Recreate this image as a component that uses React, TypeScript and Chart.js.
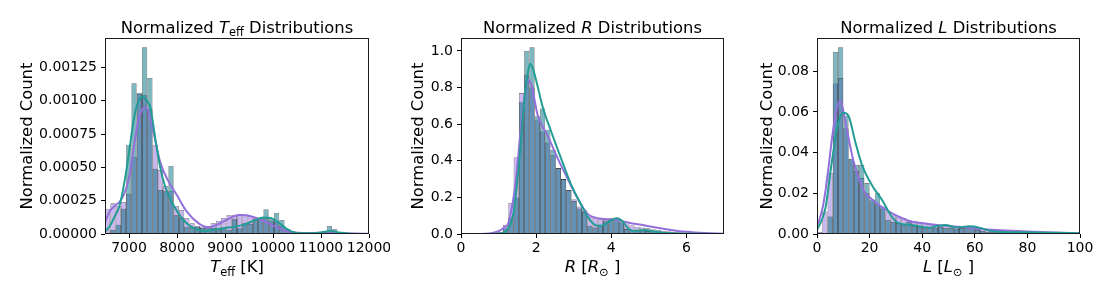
import React, { useEffect, useRef } from 'react';
import { Chart, registerables } from 'chart.js';
Chart.register(...registerables);

// ---------------- DATA ----------------
// Panel 1: Teff (50 shared bins from 6500 K, width 110 K)
const TEFF_BIN_START = 6500;
const TEFF_BIN_WIDTH = 110;
const TEFF_PURPLE_HIST = [
  0.00019, 0.00023, 0.00021, 0.00024, 0.00030, 0.00058, 0.00105, 0.00104, 0.00094, 0.00067,
  0.00048, 0.00036, 0.00032, 0.00021, 0.00018, 0.00012, 0.00008, 0.00006, 0.000055, 0.00006,
  0.00008, 0.00010, 0.00012, 0.00014, 0.000145, 0.000148, 0.000145, 0.000135, 0.000125, 0.000115,
  0.00012, 0.00010, 0.00009, 0.00006, 0.000035, 0.00002, 0.000012, 0.000008, 0.000006, 0.000005,
  0.000004, 0.000005, 0.000008, 0.000006, 0.000003, 0.000002, 0.000001, 0.0000005, 0.0000005, 0.0000005,
];
const TEFF_TEAL_HIST = [
  0.000005, 0.00003, 0.00007, 0.00019, 0.00067, 0.00113, 0.00106, 0.00140, 0.00117, 0.00049,
  0.00033, 0.00032, 0.00051, 0.00014, 0.00012, 0.000055, 0.00005, 0.000055, 0.000045, 0.000048,
  0.000045, 0.000043, 0.00004, 0.00003, 0.00011, 0.000043, 0.00008, 0.000075, 0.00011, 0.00012,
  0.000186, 0.00011, 0.00016, 0.000105, 0.00004, 0.000015, 0.000005, 0.000003, 0.000002, 0.000002,
  0.000005, 0.00001, 0.00006, 0.000035, 0.000005, 0, 0, 0, 0, 0,
];
const TEFF_PURPLE_KDE_X = [6500, 6600, 6700, 6800, 6900, 7000, 7100, 7200, 7270, 7340, 7420, 7500, 7650, 7800, 8000, 8200, 8450, 8650, 8800, 9000, 9200, 9300, 9450, 9650, 9850, 10050, 10250, 10500, 10800, 11000, 11200, 11400, 11700, 12000];
const TEFF_PURPLE_KDE_Y = [0.00009, 0.00017, 0.00021, 0.00024, 0.00030, 0.00042, 0.00065, 0.00086, 0.00093, 0.00095, 0.00090, 0.00078, 0.00054, 0.00041, 0.00029, 0.00017, 0.00008, 0.00005, 0.000065, 0.00010, 0.000135, 0.000143, 0.00014, 0.00012, 0.00009, 0.000055, 0.000025, 0.00001, 0.000008, 0.000009, 0.000012, 0.000008, 0.000003, 0.000001];
const TEFF_TEAL_KDE_X = [6500, 6600, 6700, 6800, 6900, 7000, 7100, 7200, 7285, 7350, 7450, 7550, 7650, 7750, 7850, 8000, 8100, 8250, 8450, 8600, 8800, 9000, 9200, 9400, 9600, 9800, 9950, 10100, 10300, 10500, 10800, 11000, 11200, 11400, 11600, 12000];
const TEFF_TEAL_KDE_Y = [0.000015, 0.00006, 0.00013, 0.00021, 0.00038, 0.00061, 0.00086, 0.00100, 0.00103, 0.00101, 0.00094, 0.00071, 0.00050, 0.00036, 0.00027, 0.00017, 0.00012, 0.000065, 0.00003, 0.000023, 0.000035, 0.000045, 0.000055, 0.00007, 0.00010, 0.000123, 0.00012, 0.00009, 0.000035, 0.000008, 0.000005, 0.000012, 0.000022, 0.00001, 0.000002, 0];
const TEFF_X_TICKS = [7000, 8000, 9000, 10000, 11000, 12000];
const TEFF_X_LABELS = ['7000', '8000', '9000', '10000', '11000', '12000'];
const TEFF_Y_TICKS = [0, 0.00025, 0.0005, 0.00075, 0.001, 0.00125];
const TEFF_Y_LABELS = ['0.00000', '0.00025', '0.00050', '0.00075', '0.00100', '0.00125'];

// Panel 2: R (50 shared bins from 0, width 0.14)
const R_BIN_START = 0;
const R_BIN_WIDTH = 0.14;
const R_PURPLE_HIST = [
  0, 0, 0, 0, 0, 0, 0.002, 0.012, 0.05, 0.17,
  0.42, 0.77, 0.87, 0.80, 0.62, 0.56, 0.50, 0.43, 0.36, 0.30,
  0.24, 0.19, 0.15, 0.13, 0.10, 0.086, 0.08, 0.077, 0.08, 0.075,
  0.062, 0.058, 0.048, 0.04, 0.035, 0.031, 0.026, 0.022, 0.018, 0.015,
  0.012, 0.01, 0.008, 0.006, 0.005, 0.004, 0.003, 0.002, 0.002, 0.001,
];
const R_TEAL_HIST = [
  0, 0, 0, 0, 0, 0, 0, 0, 0.03, 0.09,
  0.2, 0.72, 1.0, 1.02, 0.644, 0.686, 0.57, 0.46, 0.36, 0.30,
  0.24, 0.18, 0.14, 0.12, 0.045, 0.035, 0.05, 0.07, 0.086, 0.09,
  0.068, 0.027, 0.022, 0.02, 0.022, 0.016, 0.013, 0.01, 0.006, 0.004,
  0.003, 0.002, 0.001, 0, 0, 0, 0, 0, 0, 0,
];
const R_PURPLE_KDE_X = [0, 0.5, 0.8, 1.0, 1.15, 1.26, 1.44, 1.62, 1.72, 1.79, 1.88, 2.04, 2.3, 2.57, 2.83, 3.1, 3.37, 3.6, 3.8, 4.0, 4.2, 4.5, 4.8, 5.0, 5.5, 6.0, 6.5, 7.0];
const R_PURPLE_KDE_Y = [0, 0, 0.004, 0.015, 0.035, 0.06, 0.26, 0.63, 0.79, 0.84, 0.81, 0.65, 0.54, 0.415, 0.305, 0.196, 0.11, 0.088, 0.082, 0.08, 0.074, 0.06, 0.05, 0.042, 0.025, 0.012, 0.005, 0.002];
const R_TEAL_KDE_X = [0, 0.8, 1.1, 1.25, 1.4, 1.55, 1.68, 1.78, 1.84, 1.92, 2.0, 2.18, 2.4, 2.66, 2.93, 3.2, 3.37, 3.5, 3.62, 3.8, 4.0, 4.15, 4.3, 4.45, 4.6, 4.9, 5.1, 5.4, 5.8, 6.3, 7.0];
const R_TEAL_KDE_Y = [0, 0, 0.005, 0.03, 0.12, 0.4, 0.72, 0.88, 0.93, 0.9, 0.84, 0.69, 0.56, 0.415, 0.27, 0.16, 0.095, 0.06, 0.045, 0.05, 0.075, 0.086, 0.07, 0.03, 0.017, 0.022, 0.015, 0.007, 0.003, 0.001, 0];
const R_X_TICKS = [0, 2, 4, 6];
const R_X_LABELS = ['0', '2', '4', '6'];
const R_Y_TICKS = [0, 0.2, 0.4, 0.6, 0.8, 1.0];
const R_Y_LABELS = ['0.0', '0.2', '0.4', '0.6', '0.8', '1.0'];

// Panel 3: L (50 shared bins from 0, width 2)
const L_BIN_START = 0;
const L_BIN_WIDTH = 2;
const L_PURPLE_HIST = [
  0.001, 0.011, 0.030, 0.074, 0.0766, 0.052, 0.037, 0.031, 0.0275, 0.02,
  0.0165, 0.0145, 0.0125, 0.011, 0.0095, 0.0085, 0.0078, 0.007, 0.0065, 0.006,
  0.0055, 0.005, 0.0045, 0.004, 0.0038, 0.0035, 0.0032, 0.003, 0.0028, 0.0026,
  0.0024, 0.0022, 0.002, 0.0019, 0.0018, 0.0017, 0.0016, 0.0015, 0.0014, 0.0013,
  0.0012, 0.0011, 0.001, 0.0009, 0.0008, 0.0007, 0.0006, 0.0005, 0.0004, 0.0003,
];
const L_TEAL_HIST = [
  0, 0, 0.0086, 0.0895, 0.0917, 0.058, 0.037, 0.034, 0.034, 0.025,
  0.017, 0.02, 0.0135, 0.007, 0.006, 0.0055, 0.0045, 0.006, 0.004, 0.0035,
  0.003, 0.0035, 0.003, 0.0035, 0.003, 0.003, 0.0025, 0.003, 0.003, 0.0035,
  0.002, 0.0015, 0.001, 0.0008, 0.0008, 0.0007, 0.0007, 0.0006, 0.0006, 0.0005,
  0.0005, 0.0005, 0.0004, 0.0004, 0.0004, 0.0003, 0.0003, 0.0003, 0.0002, 0.0002,
];
const L_PURPLE_KDE_X = [0, 2, 3.2, 4.5, 5.7, 7, 8.2, 8.9, 10.8, 13.3, 15.8, 18.4, 20, 23.4, 28.4, 32, 36, 40, 45, 49, 55, 60, 65, 70, 80, 90, 100];
const L_PURPLE_KDE_Y = [0.0036, 0.012, 0.021, 0.034, 0.047, 0.058, 0.0645, 0.0653, 0.055, 0.039, 0.0275, 0.02, 0.018, 0.0143, 0.0102, 0.008, 0.006, 0.0053, 0.0045, 0.004, 0.0034, 0.0028, 0.0022, 0.0018, 0.0012, 0.0007, 0.0004];
const L_TEAL_KDE_X = [0, 1.5, 3.2, 5.7, 8.2, 10.1, 12, 14.5, 17.1, 20.9, 24.7, 28.4, 31, 36, 42.4, 46.2, 48.8, 53, 58, 62, 66, 70, 80, 90, 100];
const L_TEAL_KDE_Y = [0.002, 0.006, 0.0127, 0.036, 0.055, 0.0596, 0.058, 0.0456, 0.034, 0.024, 0.0168, 0.0086, 0.0053, 0.0044, 0.0031, 0.004, 0.0044, 0.0032, 0.0038, 0.003, 0.0015, 0.001, 0.0008, 0.0006, 0.0004];
const L_X_TICKS = [0, 20, 40, 60, 80, 100];
const L_X_LABELS = ['0', '20', '40', '60', '80', '100'];
const L_Y_TICKS = [0, 0.02, 0.04, 0.06, 0.08];
const L_Y_LABELS = ['0.00', '0.02', '0.04', '0.06', '0.08'];

const Y_AXIS_TITLE = 'Normalized Count';

// ---------------- STYLE ----------------
const FONT = '"DejaVu Sans", "Liberation Sans", sans-serif';
const PURPLE_FILL = 'rgba(147,112,219,0.5)';
const TEAL_FILL = 'rgba(0,112,130,0.5)';
const PURPLE_LINE = '#9370db';
const TEAL_LINE = '#229c94';
const EDGE = 'rgba(0,0,0,0.62)';

type Seg = { t: string; it?: boolean; sub?: boolean };

function binCenters(start: number, width: number, n: number) {
  return Array.from({ length: n }, (_, i) => start + width * (i + 0.5));
}

function drawSegs(ctx: CanvasRenderingContext2D, segs: Seg[], cx: number, baseline: number, size: number) {
  const fontFor = (s: Seg) => `${s.it ? 'italic ' : ''}${s.sub ? size * 0.7 : size}px ${FONT}`;
  let total = 0;
  const widths = segs.map((s) => {
    ctx.font = fontFor(s);
    const w = ctx.measureText(s.t).width;
    total += w;
    return w;
  });
  let x = cx - total / 2;
  ctx.textAlign = 'left';
  ctx.textBaseline = 'alphabetic';
  segs.forEach((s, i) => {
    ctx.font = fontFor(s);
    ctx.fillText(s.t, x, baseline + (s.sub ? size * 0.22 : 0));
    x += widths[i];
  });
}

type PanelCfg = {
  left: number;
  width: number;
  yAxisWidth: number;
  padRight: number;
  yTitleBaseline: number;
  title: Seg[];
  xTitle: Seg[];
  binStart: number;
  binWidth: number;
  purpleHist: number[];
  tealHist: number[];
  purpleKdeX: number[];
  purpleKdeY: number[];
  tealKdeX: number[];
  tealKdeY: number[];
  xMin: number;
  xMax: number;
  yMax: number;
  xTicks: number[];
  xLabels: string[];
  yTicks: number[];
  yLabels: string[];
};

const H = 297;
const PAD_TOP = 38;
const X_AXIS_H = 30;
const PAD_BOTTOM = 33;
const TITLE_BASELINE = 32.5;
const XTITLE_BASELINE = 272;
const TITLE_SIZE = 16.4;
const TICK_SIZE = 14;

const PANELS: PanelCfg[] = [
  {
    left: 0, width: 390, yAxisWidth: 105, padRight: 21, yTitleBaseline: 31.5,
    title: [{ t: 'Normalized ' }, { t: 'T', it: true }, { t: 'eff', sub: true }, { t: ' Distributions' }],
    xTitle: [{ t: 'T', it: true }, { t: 'eff', sub: true }, { t: ' [K]' }],
    binStart: TEFF_BIN_START, binWidth: TEFF_BIN_WIDTH,
    purpleHist: TEFF_PURPLE_HIST, tealHist: TEFF_TEAL_HIST,
    purpleKdeX: TEFF_PURPLE_KDE_X, purpleKdeY: TEFF_PURPLE_KDE_Y,
    tealKdeX: TEFF_TEAL_KDE_X, tealKdeY: TEFF_TEAL_KDE_Y,
    xMin: 6500, xMax: 12000, yMax: 0.00147,
    xTicks: TEFF_X_TICKS, xLabels: TEFF_X_LABELS, yTicks: TEFF_Y_TICKS, yLabels: TEFF_Y_LABELS,
  },
  {
    left: 390, width: 360, yAxisWidth: 71, padRight: 26, yTitleBaseline: 33.3,
    title: [{ t: 'Normalized ' }, { t: 'R', it: true }, { t: ' Distributions' }],
    xTitle: [{ t: 'R', it: true }, { t: ' [' }, { t: 'R', it: true }, { t: '\u2299', sub: true }, { t: ' ]' }],
    binStart: R_BIN_START, binWidth: R_BIN_WIDTH,
    purpleHist: R_PURPLE_HIST, tealHist: R_TEAL_HIST,
    purpleKdeX: R_PURPLE_KDE_X, purpleKdeY: R_PURPLE_KDE_Y,
    tealKdeX: R_TEAL_KDE_X, tealKdeY: R_TEAL_KDE_Y,
    xMin: 0, xMax: 7, yMax: 1.071,
    xTicks: R_X_TICKS, xLabels: R_X_LABELS, yTicks: R_Y_TICKS, yLabels: R_Y_LABELS,
  },
  {
    left: 750, width: 362, yAxisWidth: 67, padRight: 32, yTitleBaseline: 21.5,
    title: [{ t: 'Normalized ' }, { t: 'L', it: true }, { t: ' Distributions' }],
    xTitle: [{ t: 'L', it: true }, { t: ' [' }, { t: 'L', it: true }, { t: '\u2299', sub: true }, { t: ' ]' }],
    binStart: L_BIN_START, binWidth: L_BIN_WIDTH,
    purpleHist: L_PURPLE_HIST, tealHist: L_TEAL_HIST,
    purpleKdeX: L_PURPLE_KDE_X, purpleKdeY: L_PURPLE_KDE_Y,
    tealKdeX: L_TEAL_KDE_X, tealKdeY: L_TEAL_KDE_Y,
    xMin: 0, xMax: 100, yMax: 0.0963,
    xTicks: L_X_TICKS, xLabels: L_X_LABELS, yTicks: L_Y_TICKS, yLabels: L_Y_LABELS,
  },
];

function makeDecor(p: PanelCfg) {
  return {
    id: 'decor',
    afterDraw(chart: any) {
      const { ctx, chartArea: a } = chart;
      ctx.save();
      ctx.strokeStyle = '#1a1a1a';
      ctx.lineWidth = 1;
      const l = Math.round(a.left) + 0.5;
      const t = Math.round(a.top) + 0.5;
      const r = Math.round(a.right) - 0.5;
      const b = Math.round(a.bottom) - 0.5;
      ctx.strokeRect(l, t, r - l, b - t);
      ctx.fillStyle = '#000';
      const cx = (a.left + a.right) / 2;
      drawSegs(ctx, p.title, cx, TITLE_BASELINE, TITLE_SIZE);
      drawSegs(ctx, p.xTitle, cx, XTITLE_BASELINE, TITLE_SIZE);
      ctx.translate(p.yTitleBaseline, (a.top + a.bottom) / 2);
      ctx.rotate(-Math.PI / 2);
      drawSegs(ctx, [{ t: Y_AXIS_TITLE }], 0, 0, TITLE_SIZE);
      ctx.restore();
    },
  };
}

function Panel({ p }: { p: PanelCfg }) {
  const ref = useRef<HTMLCanvasElement | null>(null);
  useEffect(() => {
    if (!ref.current) return;
    const centers = binCenters(p.binStart, p.binWidth, p.purpleHist.length);
    const barCommon = {
      type: 'bar' as const,
      borderColor: EDGE,
      borderWidth: 0.6,
      barPercentage: 1,
      categoryPercentage: 1,
      grouped: false,
      inflateAmount: 0,
    };
    const chart = new Chart(ref.current, {
      type: 'bar',
      data: {
        datasets: [
          {
            ...barCommon,
            data: centers.map((x, i) => ({ x, y: p.purpleHist[i] })),
            backgroundColor: PURPLE_FILL,
            order: 4,
          },
          {
            ...barCommon,
            data: centers.map((x, i) => ({ x, y: p.tealHist[i] })),
            backgroundColor: TEAL_FILL,
            order: 3,
          },
          {
            type: 'line',
            data: p.purpleKdeX.map((x, i) => ({ x, y: p.purpleKdeY[i] })),
            borderColor: PURPLE_LINE,
            borderWidth: 2,
            pointRadius: 0,
            cubicInterpolationMode: 'monotone',
            fill: false,
            order: 2,
          },
          {
            type: 'line',
            data: p.tealKdeX.map((x, i) => ({ x, y: p.tealKdeY[i] })),
            borderColor: TEAL_LINE,
            borderWidth: 2,
            pointRadius: 0,
            cubicInterpolationMode: 'monotone',
            fill: false,
            order: 1,
          },
        ] as any,
      },
      options: {
        animation: false,
        responsive: false,
        events: [],
        layout: { padding: { left: 0, right: p.padRight, top: PAD_TOP, bottom: PAD_BOTTOM } },
        plugins: { legend: { display: false }, tooltip: { enabled: false }, title: { display: false } },
        scales: {
          x: {
            type: 'linear',
            min: p.xMin,
            max: p.xMax,
            offset: false,
            grid: { display: true, drawOnChartArea: false, drawTicks: true, tickLength: 4, tickColor: '#000', offset: false },
            border: { display: false },
            ticks: {
              autoSkip: false,
              maxRotation: 0,
              minRotation: 0,
              padding: 2,
              color: '#000',
              font: { family: FONT, size: TICK_SIZE },
              callback: (_v: any, i: number) => p.xLabels[i],
            },
            afterBuildTicks: (s: any) => { s.ticks = p.xTicks.map((v) => ({ value: v })); },
            afterFit: (s: any) => { s.height = X_AXIS_H; s.paddingLeft = 0; s.paddingRight = 0; },
          },
          y: {
            type: 'linear',
            min: 0,
            max: p.yMax,
            grid: { display: true, drawOnChartArea: false, drawTicks: true, tickLength: 4, tickColor: '#000' },
            border: { display: false },
            ticks: {
              padding: 4,
              color: '#000',
              font: { family: FONT, size: TICK_SIZE },
              callback: (_v: any, i: number) => p.yLabels[i],
            },
            afterBuildTicks: (s: any) => { s.ticks = p.yTicks.map((v) => ({ value: v })); },
            afterFit: (s: any) => { s.width = p.yAxisWidth; s.paddingTop = 0; s.paddingBottom = 0; },
          },
        },
      } as any,
      plugins: [makeDecor(p)],
    });
    return () => chart.destroy();
  }, [p]);
  return (
    <canvas
      ref={ref}
      width={p.width}
      height={H}
      style={{ position: 'absolute', left: p.left, top: 0, width: p.width, height: H }}
    />
  );
}

export default function App() {
  return (
    <div style={{ position: 'fixed', left: 0, top: 0, width: 1112, height: H, background: '#fff', overflow: 'hidden' }}>
      {PANELS.map((p, i) => (
        <Panel key={i} p={p} />
      ))}
    </div>
  );
}
